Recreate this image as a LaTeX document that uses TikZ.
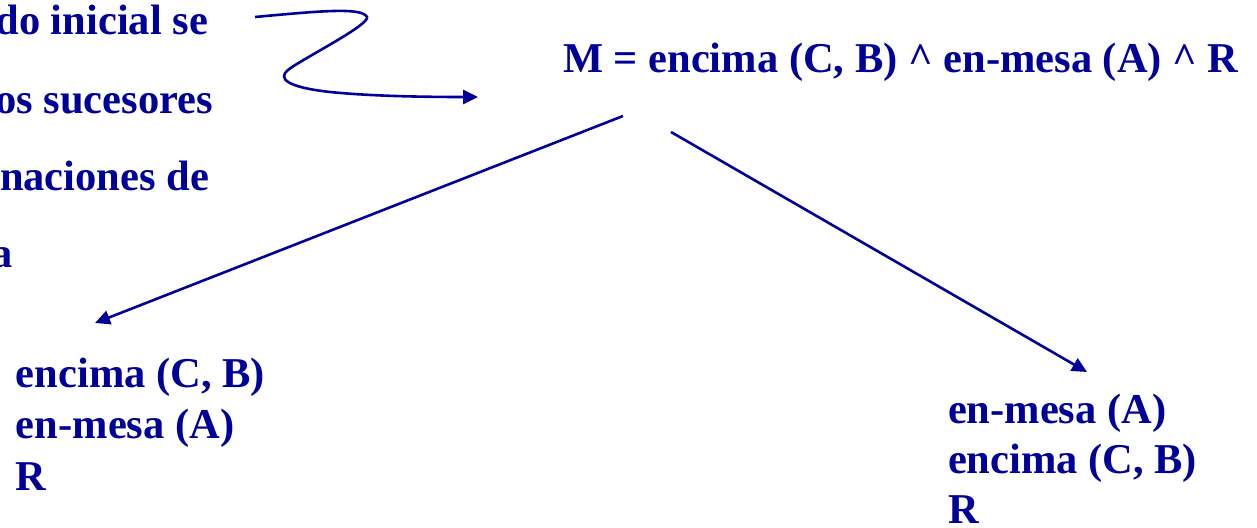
\documentclass[tikz,border=0pt]{standalone}
\usepackage{fontspec}
\setmainfont{Liberation Serif}
\usetikzlibrary{arrows.meta}
\definecolor{dblue}{RGB}{0,0,153}
\begin{document}
\begin{tikzpicture}[x=1pt,y=-1pt,
  txt/.style={inner sep=0pt,outer sep=0pt,text=dblue,font=\fontsize{42.5}{51}\selectfont\bfseries},
  conn/.style={draw=dblue,line width=2.6pt,-{Triangle[length=15pt,width=14pt]}}]
\useasboundingbox (0,0) rectangle (1257,527);
% left cut-off text
\node[txt,anchor=base east] (t1) at (208,35) {do inicial se};
\node[txt,anchor=base east] (t2) at (213,113) {os sucesores};
\node[txt,anchor=base east] (t3) at (209,190) {naciones de};
\node[txt,anchor=base east] (t4) at (13,267) {a};
% heading
\node[txt,anchor=base west] (M) at (563,72) {M = encima (C, B) \^{} en-mesa (A) \^{} R};
% left block
\node[txt,anchor=base west] (l1) at (16,387) {encima (C, B)};
\node[txt,anchor=base west] (l2) at (16,438) {en-mesa (A)};
\node[txt,anchor=base west] (l3) at (16,490) {R};
% right block
\node[txt,anchor=base west] (r1) at (948,423) {en-mesa (A)};
\node[txt,anchor=base west] (r2) at (948,473) {encima (C, B)};
\node[txt,anchor=base west] (r3) at (948,523) {R};
% connector endpoints
\coordinate (sA) at (623,116);
\coordinate (eA) at (95,323);
\coordinate (sB) at (671,132);
\coordinate (eB) at (1087,372);
\coordinate (cs) at (255,17);
\coordinate (ce) at (478,97);
\draw[conn] (sA) -- (eA);
\draw[conn] (sB) -- (eB);
\draw[conn] (cs) .. controls (320,11) and (362,7) .. (367,17)
  .. controls (370,25) and (300,60) .. (288,70)
  .. controls (278,78) and (285,87) .. (330,92)
  .. controls (370,96) and (420,97) .. (ce);
\end{tikzpicture}
\end{document}
